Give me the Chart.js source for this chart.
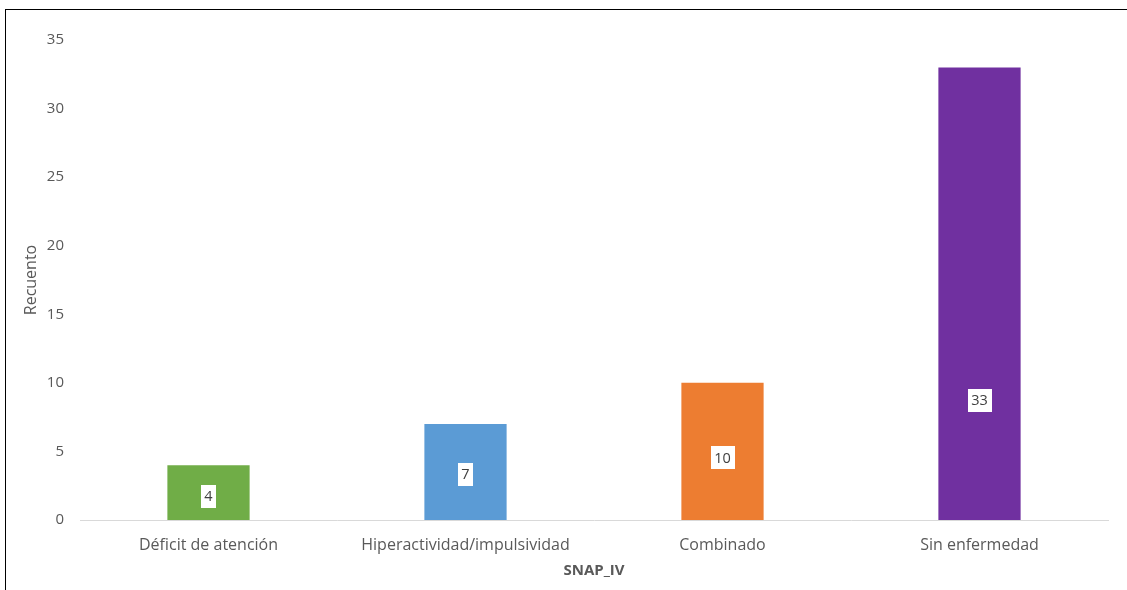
<!DOCTYPE html>
<html>
<head>
<meta charset="utf-8">
<script src="https://cdn.jsdelivr.net/npm/chart.js@4"></script>
<style>
  html, body { margin: 0; padding: 0; background: #ffffff; }
  #wrap { position: relative; width: 1127px; height: 590px; overflow: hidden; }
  #frame { position: absolute; left: 5px; top: 9px; width: 1200px; height: 700px;
           border-top: 1px solid #000; border-left: 1px solid #000; pointer-events: none; }
  canvas { position: absolute; left: 0; top: 0; }
</style>
</head>
<body>
<div id="wrap">
  <canvas id="chart" width="1127" height="590"></canvas>
  <div id="frame"></div>
</div>
<script>
// SNAP-IV result counts
const categories = ['Déficit de atención', 'Hiperactividad/impulsividad', 'Combinado', 'Sin enfermedad'];
const counts = [4, 7, 10, 33];
const barColors = ['#70AD47', '#5B9BD5', '#ED7D31', '#7030A0'];
const yTicks = [0, 5, 10, 15, 20, 25, 30, 35];
// where each value label sits inside its bar, in axis units
const labelAt = [1.75, 3.35, 4.55, 8.75];

const FONT = '"Open Sans", "Noto Sans", sans-serif';
const GREY = '#595959';

const valueBoxes = {
  id: 'valueBoxes',
  afterDatasetsDraw(chart) {
    const ctx = chart.ctx;
    const meta = chart.getDatasetMeta(0);
    const y = chart.scales.y;
    ctx.save();
    ctx.font = '14.5px ' + FONT;
    ctx.textAlign = 'center';
    ctx.textBaseline = 'middle';
    meta.data.forEach((bar, i) => {
      const txt = String(counts[i]);
      const w = ctx.measureText(txt).width + 7;
      const h = 23;
      const cy = y.getPixelForValue(labelAt[i]);
      ctx.fillStyle = '#ffffff';
      ctx.fillRect(Math.round(bar.x - w / 2), Math.round(cy - h / 2), Math.round(w), h);
      ctx.fillStyle = '#404040';
      ctx.fillText(txt, bar.x, cy + 1);
    });
    ctx.restore();
  }
};

new Chart(document.getElementById('chart'), {
  type: 'bar',
  data: {
    labels: categories,
    datasets: [{
      label: 'Recuento',
      data: counts,
      backgroundColor: barColors,
      borderWidth: 0,
      barPercentage: 0.32,
      categoryPercentage: 1.0
    }]
  },
  options: {
    responsive: false,
    animation: false,
    events: [],
    layout: { padding: { top: 40, right: 19, bottom: 0, left: 0 } },
    plugins: {
      legend: { display: false },
      tooltip: { enabled: false }
    },
    scales: {
      x: {
        grid: { display: false, drawTicks: false },
        border: { display: true, color: '#D9D9D9', width: 1 },
        ticks: { color: GREY, font: { family: FONT, size: 16 }, padding: 16, maxRotation: 0, autoSkip: false },
        title: { display: true, text: 'SNAP_IV', color: GREY,
                 font: { family: FONT, size: 15, weight: 'bold' }, padding: { top: 0, bottom: 10 } },
        afterFit(scale) { scale.height = 70; }
      },
      y: {
        min: 0,
        max: 35,
        afterBuildTicks(scale) { scale.ticks = yTicks.map(v => ({ value: v })); },
        grid: { display: false, drawTicks: false },
        border: { display: false },
        ticks: { color: GREY, font: { family: FONT, size: 15 }, padding: 16 },
        title: { display: true, text: 'Recuento', color: GREY,
                 font: { family: FONT, size: 16 }, padding: { top: 22, bottom: 0 } },
        afterFit(scale) { scale.width = 80; }
      }
    }
  },
  plugins: [valueBoxes]
});
</script>
</body>
</html>
